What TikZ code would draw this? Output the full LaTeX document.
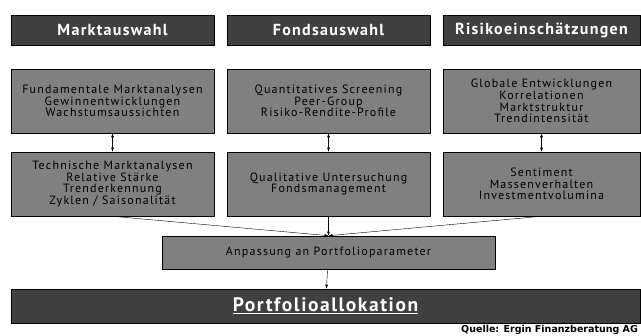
\documentclass[tikz,border=0pt]{standalone}
\usepackage{fontspec}
\setmainfont{PT Sans}
\newfontfamily\feldfont[LetterSpace=10]{PT Sans}
\newfontfamily\kopffont[LetterSpace=8]{PT Sans}
\newfontfamily\quellefont{DejaVu Sans}
\usetikzlibrary{arrows, positioning}
\definecolor{kopfgrau}{HTML}{404040}
\definecolor{feldgrau}{HTML}{808080}

\begin{document}
\begin{tikzpicture}[x=1pt,y=-1pt,>=latex,semithick,
	kopf/.style={draw=black, fill=kopfgrau, text=white, minimum height=30pt, font=\kopffont\fontsize{16}{18}\selectfont\bfseries},
	feld/.style={draw=black, fill=feldgrau, align=center, minimum height=64pt, font=\feldfont\fontsize{12}{11.8}\selectfont},
	pfeil/.style={<->, thin, >=latex, shorten >=0pt}]
	\useasboundingbox (0,0) rectangle (641,336);
	\node[kopf, minimum width=203pt] (markt) at (112.5,30) {Marktauswahl};
	\node[kopf, minimum width=203pt] (fonds) at (328.5,30) {Fondsauswahl};
	\node[kopf, minimum width=197pt] (risiko) at (541.5,30) {Risikoeinschätzungen};
	\node[feld, minimum width=203pt] (markt1) at (112.5,101) {Fundamentale Marktanalysen\\Gewinnentwicklungen\\Wachstumsaussichten};
	\node[feld, minimum width=203pt] (fonds1) at (328.5,101) {Quantitatives Screening\\Peer-Group\\Risiko-Rendite-Profile};
	\node[feld, minimum width=197pt] (risiko1) at (541.5,101) {Globale Entwicklungen\\Korrelationen\\Marktstruktur\\Trendintensität};
	\node[feld, minimum width=203pt] (markt2) at (112.5,184) {Technische Marktanalysen\\Relative Stärke\\Trenderkennung\\Zyklen / Saisonalität};
	\node[feld, minimum width=203pt] (fonds2) at (328.5,184) {Qualitative Untersuchung\\Fondsmanagement};
	\node[feld, minimum width=197pt] (risiko2) at (541.5,184) {Sentiment\\Massenverhalten\\Investmentvolumina};
	\node[feld, minimum width=333pt, minimum height=33pt] (anpassung) at (328.5,252.5) {Anpassung an Portfolioparameter};
	\node[draw=black, fill=kopfgrau, text=white, minimum width=629pt, minimum height=34pt, font=\kopffont\fontsize{19.5}{21}\selectfont\bfseries] (allokation) at (325.5,306) {\underline{Portfolioallokation}};
	\node[anchor=east, font=\quellefont\fontsize{9.5}{11}\selectfont\bfseries] (quelle) at (641.5,330) {Quelle: Ergin Finanzberatung AG};
	\path[pfeil]
		(markt1) edge (markt2)
		(fonds1) edge (fonds2)
		(risiko1) edge (risiko2);
	\path[->, thin]
		(markt2.south) edge (anpassung.north)
		(fonds2) edge (anpassung)
		(risiko2.south) edge (anpassung.north)
		(anpassung) edge (allokation);
\end{tikzpicture}
\end{document}
